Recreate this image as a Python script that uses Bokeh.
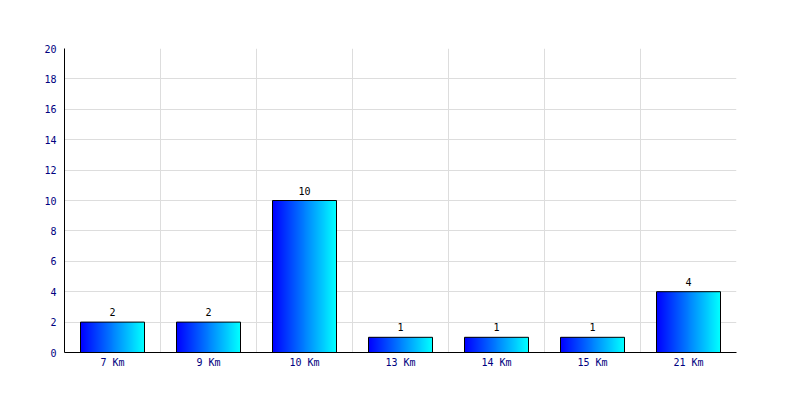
import numpy as np
from bokeh.plotting import figure
from bokeh.models import ColumnDataSource, FixedTicker, Range1d
from bokeh.transform import dodge
from bokeh.core.properties import value
from bokeh.embed import file_html
from bokeh.resources import INLINE

categories = ["7 Km", "9 Km", "10 Km", "13 Km", "14 Km", "15 Km", "21 Km"]
counts = [2, 2, 10, 1, 1, 1, 4]
y_ticks = [0, 2, 4, 6, 8, 10, 12, 14, 16, 18, 20]

n = len(categories)
xc = [i + 0.5 for i in range(n)]
src = ColumnDataSource(dict(x=xc, top=counts, label=[str(c) for c in counts]))

FONT = "DejaVu Sans Mono"

p = figure(width=792, height=392, output_backend="svg", toolbar_location=None,
           x_range=Range1d(0, n), y_range=Range1d(0, 20),
           min_border_left=64, min_border_right=56, min_border_top=48, min_border_bottom=40)
p.outline_line_color = None

# grids
p.xgrid.ticker = FixedTicker(ticks=list(range(1, n + 1)))
p.ygrid.ticker = FixedTicker(ticks=y_ticks[1:])
p.xgrid.grid_line_color = "#dddddd"
p.ygrid.grid_line_color = "#dddddd"

# axes
p.xaxis.ticker = FixedTicker(ticks=xc)
p.xaxis.major_label_overrides = {x: c for x, c in zip(xc, categories)}
p.yaxis.ticker = FixedTicker(ticks=y_ticks)
for ax in (p.xaxis[0], p.yaxis[0]):
    ax.axis_line_color = "black"
    ax.major_tick_line_color = None
    ax.minor_tick_line_color = None
    ax.major_label_text_font = FONT
    ax.major_label_text_font_size = "10px"
    ax.major_label_text_color = "#000080"
p.xaxis.major_label_standoff = -2
p.yaxis.major_label_standoff = 2

# gradient bars (horizontal blue -> cyan)
bar_w = 2 / 3
strips = 64
sw = bar_w / strips
for k in range(strips):
    t = k / (strips - 1)
    g = int(round(255 * t))
    col = "#00%02x%02x" % (g, 255)
    left = -bar_w / 2 + sw * k
    right = min(left + sw * 2.0, bar_w / 2)
    off = (left + right) / 2
    p.vbar(x=dodge("x", off, range=p.x_range), top="top", bottom=0, width=right - left,
           source=src, fill_color=col, line_color=None)

p.vbar(x="x", top="top", bottom=0, width=bar_w, source=src,
       fill_color=None, line_color="black", line_width=1)

p.text(x="x", y="top", text="label", source=src, text_align="center",
       text_baseline="bottom", y_offset=-6, text_font=value(FONT),
       text_font_size="10px", text_color="black")

open("out.html", "w").write(file_html(p, INLINE))
